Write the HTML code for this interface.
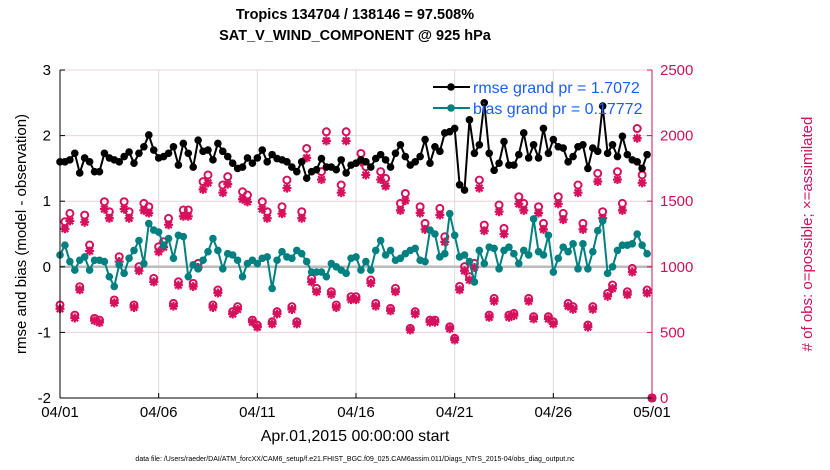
<!DOCTYPE html>
<html><head><meta charset="utf-8"><style>
body{margin:0;background:#fff;}
svg{display:block;font-family:"Liberation Sans",sans-serif;}
</style></head><body>
<svg id="chart" width="830" height="470" viewBox="0 0 830 470">
<g id="grid"></g>
<text x="355" y="19" font-size="14.5" font-weight="bold" text-anchor="middle">Tropics 134704 / 138146 = 97.508%</text>
<text x="355" y="40" font-size="14.5" font-weight="bold" text-anchor="middle">SAT_V_WIND_COMPONENT @ 925 hPa</text>
<g id="series"></g>
<g id="axes"></g>
<text transform="translate(26,234) rotate(-90)" font-size="15" text-anchor="middle">rmse and bias (model - observation)</text>
<text transform="translate(812,234) rotate(-90)" font-size="15" text-anchor="middle" fill="#d0105a"># of obs: o=possible; ×=assimilated</text>
<text x="355" y="441" font-size="16" text-anchor="middle">Apr.01,2015 00:00:00 start</text>
<text x="355" y="461" font-size="7" text-anchor="middle">data file: /Users/raeder/DAI/ATM_forcXX/CAM6_setup/f.e21.FHIST_BGC.f09_025.CAM6assim.011/Diags_NTrS_2015-04/obs_diag_output.nc</text>
<g>
<line x1="433" y1="87" x2="470" y2="87" stroke="#000" stroke-width="2"/><circle cx="451" cy="87" r="3.8" fill="#000"/>
<text x="473" y="93" font-size="16" fill="#1a5cff">rmse grand pr = 1.7072</text>
<line x1="433" y1="108" x2="470" y2="108" stroke="#008080" stroke-width="2"/><circle cx="451" cy="108" r="3.8" fill="#008080"/>
<text x="473" y="114" font-size="16" fill="#1a5cff">bias grand pr = 0.17772</text>
</g>
</svg>
<script>
const rmse=[1.6,1.6,1.63,1.73,1.43,1.66,1.6,1.45,1.45,1.73,1.66,1.63,1.6,1.68,1.75,1.58,1.73,1.83,2.01,1.78,1.66,1.68,1.73,1.83,1.55,1.88,1.73,1.52,1.93,1.76,1.78,1.63,1.88,1.76,1.68,1.58,1.5,1.52,1.66,1.58,1.66,
1.78,1.6,1.71,1.65,1.63,1.6,1.52,1.45,1.6,1.35,1.45,1.48,1.65,1.52,1.52,1.48,1.63,1.43,1.55,1.58,1.63,1.6,1.52,1.65,1.71,1.63,1.52,1.73,1.86,1.68,1.55,1.6,1.68,1.94,1.58,1.83,1.76,2.04,2.06,
2.11,1.25,1.17,2.24,1.73,1.86,2.5,1.73,1.47,1.58,1.91,1.55,1.55,1.71,2.04,1.66,1.86,1.66,2.11,1.73,1.94,1.83,1.81,1.6,1.68,1.83,1.86,1.5,1.81,1.76,2.45,1.73,1.86,1.68,1.99,1.71,1.63,1.6,1.5,1.71];
const bias=[0.18,0.33,0.08,-0.05,0.1,0.15,-0.05,0.1,0.1,0.08,-0.15,-0.3,0.03,-0.1,0.13,0.25,0.4,0.05,0.66,0.56,0.53,0.33,0.43,0.13,0.48,0.46,-0.15,0.03,-0.03,0.1,0.23,0.43,0.25,-0.03,0.2,0.18,0.1,-0.15,0.05,0.1,0.05,
0.13,0.15,-0.33,0.1,0.23,0.15,0.13,0.25,0.2,0.08,-0.08,-0.08,-0.08,-0.15,0.05,0,-0.05,-0.1,0.13,0.15,-0.05,0.08,-0.05,0.25,0.4,0.18,0.25,0.1,0.13,0.2,0.25,0.28,0.1,0.08,0.56,0.5,0.15,0.2,0.81,
0.48,0.15,0.18,0.08,-0.23,0.25,0.05,0.3,0.28,-0.03,0.25,0.3,0.2,0.05,0.25,0.18,0.73,0.23,0.18,0.48,-0.08,0.13,0.3,0.23,0.35,-0.03,0.35,-0.03,0.23,0.55,0.7,-0.1,0,0.25,0.33,0.33,0.35,0.5,0.33,0.2];
const obsPossible=[709,1343,1407,632,848,1394,1166,607,594,1496,1420,747,1077,1496,1420,709,1001,1483,1458,912,1153,1191,1369,721,886,1433,1433,874,1026,1649,1700,709,823,1623,1687,658,696,1572,1547,594,556,
1496,1420,581,658,1458,1661,696,581,1420,1902,912,836,1725,2029,810,709,1623,2029,772,772,1864,1763,899,721,1725,1674,683,836,1483,1559,531,658,1458,1331,594,594,1445,1229,543,
455,851,1001,925,1026,1661,1318,632,759,1471,1293,632,645,1534,1483,759,620,1458,1331,620,581,1534,1407,721,696,1623,1331,556,696,1712,1420,797,861,1725,1483,810,988,2054,1700,823,0];
const obsAssim=[680,1290,1350,610,825,1340,1120,590,575,1440,1370,725,1040,1440,1370,690,970,1430,1410,885,1115,1150,1320,700,860,1385,1385,850,995,1590,1640,690,800,1565,1630,640,675,1515,1495,578,540,
1440,1370,565,640,1405,1600,675,565,1370,1830,885,810,1665,1960,790,690,1565,1960,750,750,1800,1700,875,700,1665,1615,665,810,1430,1505,518,640,1410,1285,578,578,1395,1190,528,
443,825,970,900,995,1600,1275,615,738,1420,1250,615,628,1480,1430,738,603,1410,1285,603,565,1480,1360,700,676,1565,1285,540,676,1650,1370,775,835,1665,1430,788,960,1980,1640,800,0];
const leftTicks=[3,2,1,0,-1,-2];
const rightTicks=[0,500,1000,1500,2000,2500];
const xTickLabels=["04/01","04/06","04/11","04/16","04/21","04/26","05/01"];
const xTickDays=[0,5,10,15,20,25,30];

const X0=60,X1=652,YT=70,YB=398;
const xs=d=>X0+(X1-X0)*d/30;
const yl=v=>YB-(YB-YT)*(v+2)/5;
const yr=v=>YB-(YB-YT)*v/2500;
const NS="http://www.w3.org/2000/svg";
function mk(tag,attrs,parent){const e=document.createElementNS(NS,tag);for(const k in attrs)e.setAttribute(k,attrs[k]);parent.appendChild(e);return e;}
const grid=document.getElementById('grid'),ser=document.getElementById('series'),ax=document.getElementById('axes');
xTickDays.forEach((d,i)=>{
  const l=mk('line',{x1:xs(d),x2:xs(d),y1:YT,y2:YB,stroke:'#dcdcdc','stroke-width':1},grid);
  
  
  const t=mk('text',{x:xs(d),y:YB+19,'font-size':15,'text-anchor':'middle'},ax);t.textContent=xTickLabels[i];
  
  
  mk('line',{x1:xs(d),x2:xs(d),y1:YB,y2:YB-5,stroke:'#000'},ax);
});
rightTicks.forEach(v=>{
  const l=mk('line',{x1:X0,x2:X1,y1:yr(v),y2:yr(v),stroke:'#f0d0dc','stroke-width':1},grid);
  
  
  const t=mk('text',{x:X1+8,y:yr(v)+5,'font-size':15,fill:'#d0105a'},ax);t.textContent=v;
  
  
  mk('line',{x1:X1,x2:X1-5,y1:yr(v),y2:yr(v),stroke:'#d0105a'},ax);
});
leftTicks.forEach(v=>{
  const t=mk('text',{x:X0-9,y:yl(v)+5,'font-size':15,'text-anchor':'end'},ax);t.textContent=v;
  
  
  mk('line',{x1:X0,x2:X0+5,y1:yl(v),y2:yl(v),stroke:'#000'},ax);
});
const zl=mk('line',{x1:X0,x2:X1,y1:yl(0),y2:yl(0),stroke:'#bbbbbb','stroke-width':2.5},grid);


mk('line',{x1:X0,x2:X0,y1:YT,y2:YB,stroke:'#000'},ax);
mk('line',{x1:X0,x2:X1,y1:YB,y2:YB,stroke:'#000'},ax);
mk('line',{x1:X1,x2:X1,y1:YT,y2:YB,stroke:'#d0105a'},ax);
const RED='#d6105c';
obsPossible.forEach((v,i)=>{
  const c=mk('circle',{cx:xs(i*0.25),cy:yr(v),r:3.5,fill:'none',stroke:RED,'stroke-width':2},ser);
  
  
});
obsAssim.forEach((v,i)=>{
  const x=xs(i*0.25),y=yr(v);
  const g=mk('path',{d:`M${x-4.5},${y}H${x+4.5}M${x},${y-4.5}V${y+4.5}M${x-3.3},${y-3.3}L${x+3.3},${y+3.3}M${x-3.3},${y+3.3}L${x+3.3},${y-3.3}`,stroke:RED,'stroke-width':2.2},ser);
  
  
});
function line(arr,color,name){
  const p=mk('polyline',{points:arr.map((v,i)=>xs(i*0.25)+','+yl(v)).join(' '),fill:'none',stroke:color,'stroke-width':2},ser);
  
  
  arr.forEach((v,i)=>{
    const c=mk('circle',{cx:xs(i*0.25),cy:yl(v),r:3.8,fill:color},ser);
    
    
  });
}
line(bias,'#008080','bias');
line(rmse,'#000000','rmse');
</script>
</body></html>
